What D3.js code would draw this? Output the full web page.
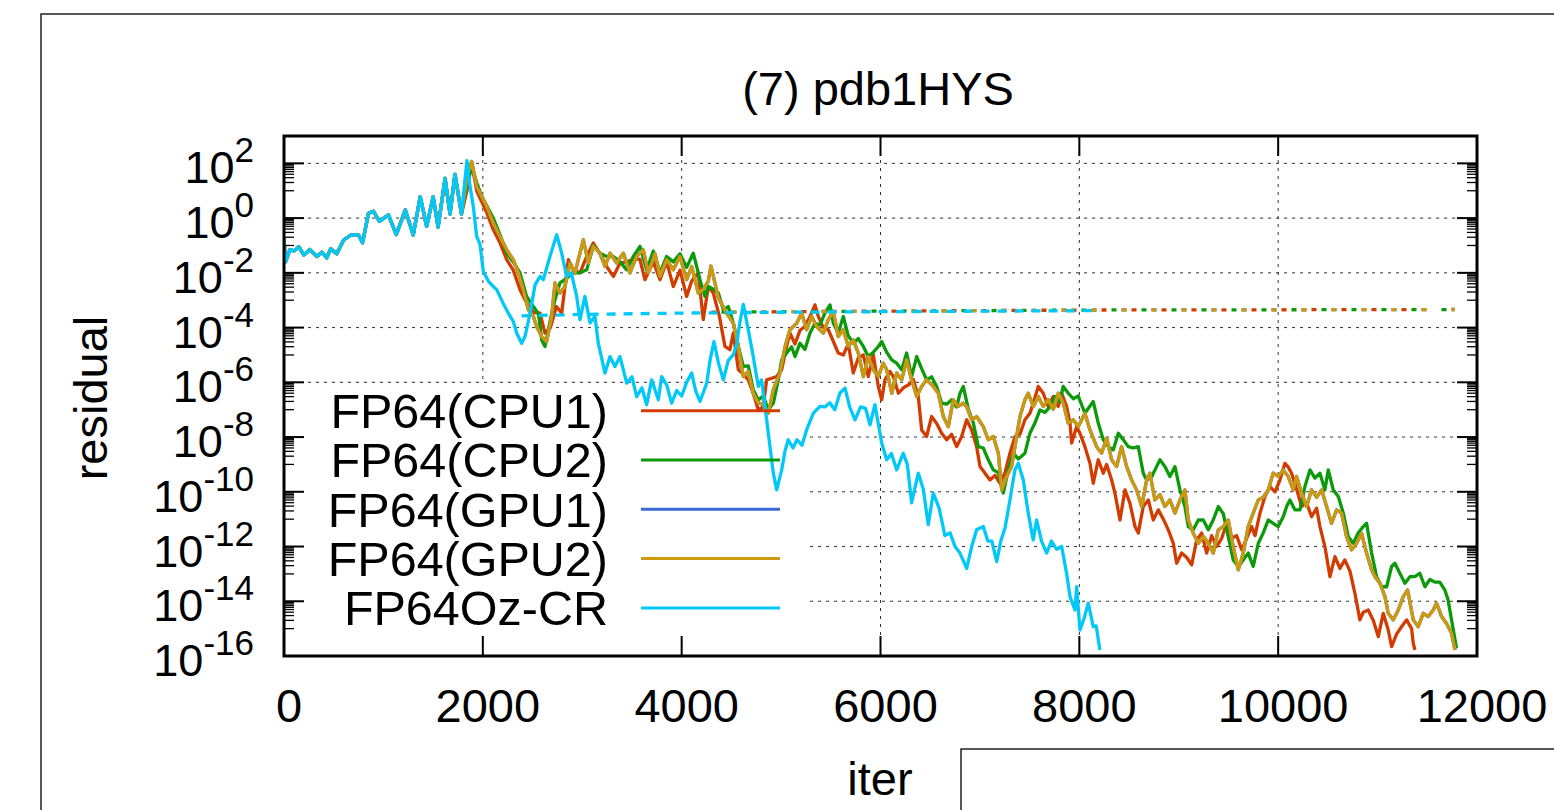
<!DOCTYPE html>
<html><head><meta charset="utf-8">
<script src="https://cdn.jsdelivr.net/npm/d3@7"></script>
<style>
html,body{margin:0;padding:0;background:#fff;}
svg{display:block;}
text{font-family:"Liberation Sans", Arial, Helvetica, sans-serif;fill:#000;}
</style></head><body>
<svg id="chart" width="1554" height="810"></svg>
<script>
// ---------------- DATA (iteration, log10(residual)) ----------------
const titleText = "(7) pdb1HYS";
const xTickValues = [0, 2000, 4000, 6000, 8000, 10000, 12000];
const yTickExponents = [-16, -14, -12, -10, -8, -6, -4, -2, 0, 2];
const seriesNames = ["FP64(CPU1)", "FP64(CPU2)", "FP64(GPU1)", "FP64(GPU2)", "FP64Oz-CR"];
const seriesColors = ["#d23c00", "#0a9a0a", "#3a69d6", "#cc9a0c", "#00c8f8"];

// common start shared by all solvers
const headPts = [[0,-0.75],[15,-1.6],[60,-1.15],[100,-1.2],[150,-1.05],[200,-1.35],[260,-1.15],[330,-1.4],[380,-1.25],[430,-1.45],[470,-1.12],[530,-1.3],[600,-0.8],[680,-0.6],[750,-0.62],[790,-0.9],[850,0.18],[900,0.25],[960,-0.12],[1050,0.12],[1130,-0.6],[1220,0.3],[1300,-0.62],[1370,0.78],[1435,-0.3],[1500,0.78],[1550,-0.33],[1620,1.45],[1670,0.15],[1720,1.6],[1785,0.15]];

const cpu1Pts = [[1840,1.0],[1888,2.0],[1938,1.0],[1988,0.6],[2039,0.2],[2105,-0.42],[2172,-0.9],[2240,-1.52],[2306,-1.9],[2374,-2.62],[2440,-3.1],[2508,-3.45],[2575,-3.47],[2625,-4.2],[2680,-4.0],[2740,-3.23],[2793,-3.47],[2860,-1.52],[2910,-1.9],[2977,-2.0],[3045,-1.4],[3111,-0.91],[3178,-1.3],[3245,-1.77],[3313,-2.13],[3380,-1.64],[3447,-1.6],[3514,-1.5],[3580,-1.5],[3630,-2.25],[3715,-1.6],[3782,-2.25],[3849,-1.6],[3916,-2.5],[3983,-1.9],[4050,-2.86],[4101,-2.3],[4167,-2.0],[4217,-3.71],[4268,-2.5],[4318,-2.74],[4380,-3.59],[4435,-4.69],[4485,-4.81],[4519,-4.2],[4570,-5.54],[4620,-5.7],[4670,-5.91],[4720,-6.4],[4771,-7.01],[4820,-6.9],[4855,-5.91],[4905,-5.85],[4956,-5.79],[5006,-5.54],[5056,-4.69],[5089,-4.2],[5140,-4.6],[5190,-4.1],[5240,-3.96],[5290,-3.6],[5341,-3.17],[5375,-3.6],[5425,-4.0],[5475,-4.08],[5525,-4.5],[5575,-4.93],[5626,-5.0],[5676,-4.6],[5726,-5.66],[5777,-5.1],[5827,-5.0],[5877,-5.79],[5928,-5.0],[5978,-6.15],[6012,-6.64],[6045,-5.9],[6095,-5.6],[6130,-5.8],[6180,-6.4],[6230,-6.2],[6280,-6.1],[6330,-5.9],[6380,-6.52],[6414,-7.74],[6464,-7.98],[6514,-7.25],[6564,-7.5],[6615,-7.86],[6665,-8.1],[6715,-7.9],[6766,-8.35],[6816,-7.98],[6867,-7.37],[6917,-7.74],[6967,-8.35],[7001,-9.08],[7051,-9.32],[7101,-9.57],[7152,-9.4],[7202,-9.69],[7252,-9.3],[7302,-8.59],[7353,-7.98],[7403,-7.9],[7453,-7.37],[7503,-7.13],[7537,-6.76],[7587,-6.15],[7637,-6.4],[7687,-6.88],[7738,-6.52],[7788,-6.88],[7822,-6.4],[7872,-6.88],[7906,-7.49],[7923,-8.22],[7973,-7.62],[8006,-7.86],[8056,-8.35],[8107,-8.96],[8140,-9.69],[8190,-8.83],[8241,-9.32],[8275,-9.0],[8325,-9.57],[8358,-10.05],[8409,-11.03],[8459,-9.93],[8509,-10.42],[8560,-11.27],[8593,-11.51],[8643,-10.54],[8694,-10.3],[8744,-11.03],[8794,-10.66],[8845,-11.0],[8895,-11.39],[8945,-11.88],[8979,-12.61],[9029,-12.24],[9080,-12.4],[9130,-12.67],[9180,-11.76],[9230,-11.51],[9281,-12.24],[9331,-11.6],[9381,-12.0],[9432,-11.7],[9482,-11.15],[9532,-11.7],[9582,-11.6],[9633,-12.12],[9683,-11.7],[9733,-11.27],[9767,-11.6],[9817,-10.78],[9867,-10.17],[9917,-9.81],[9968,-10.0],[10018,-9.57],[10068,-8.96],[10102,-9.1],[10135,-9.32],[10185,-9.9],[10236,-10.54],[10286,-10.4],[10336,-10.91],[10387,-10.6],[10420,-11.27],[10470,-12.0],[10521,-13.1],[10571,-12.37],[10621,-12.8],[10671,-12.49],[10722,-12.9],[10772,-13.71],[10822,-14.68],[10856,-14.4],[10906,-14.32],[10957,-14.7],[11007,-15.29],[11057,-14.44],[11107,-15.05],[11141,-15.66],[11191,-15.2],[11241,-14.93],[11292,-14.68],[11342,-15.0],[11359,-15.54],[11376,-15.78]];

const cpu2Pts = [[1840,1.22],[1888,1.9],[1938,1.3],[1988,0.8],[2039,0.45],[2105,0.0],[2172,-0.6],[2240,-1.28],[2306,-1.6],[2374,-2.0],[2440,-2.86],[2508,-3.23],[2560,-3.5],[2592,-4.45],[2625,-4.69],[2680,-3.7],[2726,-2.98],[2776,-2.37],[2843,-2.2],[2910,-2.0],[2977,-2.0],[3045,-1.89],[3111,-1.0],[3178,-1.28],[3245,-1.4],[3313,-1.4],[3380,-1.6],[3447,-1.89],[3514,-1.4],[3581,-1.03],[3648,-1.9],[3715,-1.2],[3782,-2.0],[3849,-1.4],[3916,-1.6],[3983,-1.3],[4050,-1.8],[4117,-1.28],[4184,-2.25],[4234,-2.86],[4268,-2.5],[4318,-2.6],[4369,-2.74],[4419,-3.35],[4469,-3.23],[4520,-3.84],[4570,-4.69],[4620,-5.42],[4670,-5.4],[4720,-6.27],[4771,-6.64],[4821,-6.5],[4872,-7.01],[4922,-6.76],[4972,-5.91],[5006,-5.18],[5056,-4.93],[5106,-4.7],[5140,-5.06],[5190,-4.57],[5240,-4.8],[5291,-4.2],[5341,-3.84],[5391,-3.9],[5441,-3.47],[5492,-3.17],[5525,-3.84],[5575,-4.2],[5626,-3.59],[5676,-4.3],[5726,-4.57],[5777,-4.4],[5827,-4.69],[5877,-5.06],[5928,-4.9],[5978,-4.69],[6012,-4.51],[6062,-4.9],[6113,-5.18],[6163,-5.3],[6213,-5.54],[6263,-4.93],[6313,-5.79],[6364,-5.06],[6414,-5.5],[6464,-5.91],[6514,-5.8],[6565,-6.15],[6615,-6.76],[6665,-6.8],[6716,-6.64],[6766,-6.9],[6800,-6.4],[6833,-6.15],[6883,-6.98],[6934,-7.49],[6984,-8.35],[7034,-8.4],[7084,-8.83],[7135,-9.2],[7185,-9.3],[7235,-10.05],[7286,-9.2],[7336,-8.59],[7386,-8.8],[7453,-8.59],[7503,-7.86],[7553,-7.49],[7604,-7.01],[7654,-7.1],[7704,-6.9],[7754,-6.52],[7805,-6.7],[7838,-6.15],[7889,-6.4],[7939,-6.6],[7989,-6.5],[8056,-7.13],[8140,-6.7],[8190,-7.49],[8241,-8.1],[8291,-8.35],[8341,-8.47],[8392,-7.86],[8442,-8.1],[8492,-8.35],[8542,-8.4],[8593,-8.35],[8643,-9.32],[8677,-9.57],[8727,-9.45],[8777,-9.08],[8811,-8.83],[8861,-9.08],[8911,-9.44],[8962,-9.08],[9012,-9.93],[9062,-10.54],[9096,-11.27],[9146,-11.39],[9197,-11.03],[9247,-11.03],[9297,-11.39],[9347,-11.03],[9398,-10.54],[9448,-10.8],[9498,-11.64],[9548,-12.49],[9599,-12.73],[9649,-12.49],[9699,-12.24],[9749,-12.73],[9800,-11.88],[9850,-11.5],[9900,-11.03],[9950,-11.15],[10001,-11.27],[10051,-10.91],[10085,-10.54],[10118,-10.3],[10168,-10.66],[10219,-10.66],[10269,-9.81],[10320,-9.2],[10370,-9.5],[10420,-9.32],[10470,-9.93],[10504,-9.2],[10554,-9.93],[10605,-10.17],[10655,-10.78],[10705,-11.64],[10755,-11.88],[10806,-11.5],[10856,-11.27],[10889,-11.15],[10940,-12.24],[10990,-13.1],[11040,-13.47],[11091,-13.47],[11141,-12.73],[11174,-12.61],[11224,-12.98],[11275,-13.34],[11325,-13.1],[11375,-13.1],[11425,-12.98],[11476,-13.47],[11526,-13.2],[11576,-13.3],[11626,-13.3],[11677,-13.59],[11710,-13.96],[11744,-14.68],[11794,-15.72]];

// GPU1 coincides with GPU2 (hidden under it in the picture)
const gpu2Pts = [[1840,1.5],[1888,2.07],[1938,1.16],[1988,0.79],[2039,0.43],[2105,-0.18],[2172,-0.67],[2240,-1.16],[2306,-1.52],[2357,-2.0],[2407,-2.62],[2457,-3.35],[2508,-3.59],[2541,-3.96],[2592,-4.33],[2642,-4.51],[2692,-3.59],[2726,-2.37],[2776,-2.74],[2826,-2.5],[2877,-1.64],[2927,-2.0],[2960,-1.52],[3011,-0.79],[3061,-1.64],[3111,-1.03],[3178,-1.28],[3229,-1.77],[3279,-1.28],[3346,-1.64],[3413,-1.28],[3480,-2.0],[3547,-1.4],[3614,-1.16],[3664,-2.0],[3732,-1.3],[3782,-2.13],[3849,-1.52],[3916,-1.89],[3983,-1.4],[4050,-2.25],[4101,-1.77],[4167,-2.74],[4217,-2.6],[4268,-2.3],[4295,-1.75],[4368,-2.9],[4452,-3.47],[4519,-3.84],[4570,-4.69],[4620,-5.79],[4670,-5.6],[4720,-6.4],[4771,-6.76],[4818,-6.8],[4872,-7.13],[4922,-6.27],[4989,-5.66],[5040,-4.69],[5089,-4.08],[5157,-3.84],[5207,-3.47],[5257,-4.08],[5307,-3.59],[5358,-3.96],[5425,-4.2],[5475,-3.71],[5525,-3.41],[5575,-4.33],[5626,-4.08],[5676,-4.69],[5726,-4.45],[5777,-4.93],[5827,-5.79],[5877,-5.06],[5928,-5.54],[5978,-5.79],[6028,-5.3],[6062,-5.54],[6113,-6.4],[6163,-5.66],[6213,-5.91],[6263,-5.18],[6313,-5.91],[6364,-6.52],[6414,-6.15],[6464,-5.91],[6531,-6.15],[6581,-6.4],[6632,-7.25],[6682,-7.62],[6732,-6.64],[6782,-6.88],[6833,-6.76],[6867,-6.9],[6917,-7.37],[6967,-7.25],[7034,-7.62],[7084,-8.1],[7135,-7.98],[7185,-8.59],[7219,-9.93],[7269,-9.44],[7319,-9.08],[7369,-7.98],[7403,-7.25],[7453,-6.64],[7486,-6.4],[7537,-6.88],[7587,-6.52],[7637,-6.88],[7687,-6.64],[7738,-6.98],[7788,-6.4],[7838,-6.76],[7888,-7.49],[7939,-7.37],[7989,-7.62],[8056,-7.13],[8107,-7.74],[8174,-8.35],[8224,-8.59],[8275,-8.04],[8325,-8.83],[8375,-9.08],[8425,-8.35],[8476,-9.08],[8526,-9.57],[8576,-9.93],[8627,-10.54],[8677,-9.57],[8710,-9.32],[8760,-10.3],[8811,-10.1],[8861,-10.54],[8911,-10.3],[8962,-10.78],[9012,-10.3],[9062,-9.93],[9096,-11.03],[9146,-11.51],[9197,-11.88],[9247,-11.63],[9297,-11.88],[9347,-12.24],[9398,-11.39],[9448,-11.27],[9498,-11.03],[9548,-12.0],[9599,-12.85],[9649,-12.24],[9699,-11.27],[9749,-10.78],[9800,-10.3],[9850,-10.2],[9900,-9.93],[9950,-9.32],[10001,-9.44],[10051,-9.2],[10101,-9.44],[10151,-9.93],[10185,-9.44],[10236,-10.05],[10286,-10.54],[10336,-9.93],[10387,-10.2],[10437,-9.93],[10487,-10.54],[10537,-11.15],[10588,-10.66],[10638,-10.78],[10688,-11.64],[10739,-12.12],[10789,-11.88],[10839,-11.51],[10889,-12.24],[10940,-12.85],[10973,-13.1],[11024,-13.34],[11074,-13.83],[11107,-14.44],[11158,-14.68],[11208,-14.32],[11258,-13.83],[11302,-13.59],[11359,-14.68],[11409,-14.93],[11459,-14.44],[11509,-14.56],[11560,-14.32],[11593,-14.07],[11644,-14.56],[11694,-14.81],[11744,-15.17],[11778,-15.78]];
const gpu1Pts = gpu2Pts;

const ozPts = [[1840,2.1],[1871,1.16],[1904,0.43],[1938,-0.67],[1971,-0.95],[2005,-1.95],[2055,-2.3],[2105,-2.5],[2140,-2.62],[2172,-2.86],[2210,-3.16],[2256,-3.47],[2307,-3.78],[2340,-4.2],[2390,-4.57],[2424,-4.33],[2474,-3.5],[2525,-2.44],[2575,-2.13],[2608,-2.25],[2675,-1.4],[2743,-0.61],[2793,-1.28],[2843,-2.13],[2890,-2.0],[2944,-2.86],[2977,-3.71],[3027,-2.86],[3078,-3.83],[3128,-3.59],[3161,-4.57],[3229,-5.66],[3279,-5.06],[3329,-5.42],[3380,-5.06],[3447,-6.03],[3500,-5.8],[3547,-6.52],[3600,-6.2],[3648,-6.82],[3698,-5.91],[3765,-6.64],[3799,-5.79],[3850,-6.1],[3899,-6.76],[3950,-6.3],[4000,-6.5],[4050,-6.0],[4101,-5.66],[4140,-6.3],[4184,-6.7],[4252,-6.03],[4285,-5.2],[4325,-4.51],[4370,-5.3],[4419,-5.91],[4469,-5.2],[4519,-5.0],[4553,-4.6],[4586,-3.8],[4620,-3.15],[4670,-4.08],[4720,-5.06],[4771,-6.15],[4804,-5.91],[4855,-7.37],[4888,-8.35],[4922,-9.32],[4956,-9.93],[5006,-9.2],[5040,-8.5],[5072,-8.1],[5120,-8.4],[5160,-8.1],[5210,-8.3],[5257,-7.74],[5324,-7.13],[5391,-6.88],[5440,-6.9],[5490,-6.75],[5540,-7.0],[5592,-6.39],[5643,-6.21],[5690,-6.9],[5743,-7.37],[5800,-6.9],[5850,-6.95],[5894,-7.55],[5944,-6.82],[6012,-8.22],[6062,-8.83],[6110,-8.6],[6163,-9.2],[6229,-8.59],[6270,-9.0],[6313,-10.4],[6380,-9.32],[6430,-9.9],[6480,-11.2],[6531,-10.05],[6590,-10.6],[6648,-11.6],[6700,-11.5],[6749,-12.0],[6799,-12.24],[6867,-12.8],[6917,-12.0],[6967,-11.39],[7034,-11.27],[7080,-11.8],[7120,-11.8],[7169,-12.55],[7210,-11.8],[7252,-11.33],[7302,-10.3],[7352,-9.2],[7386,-8.96],[7436,-9.57],[7486,-10.78],[7536,-11.76],[7570,-11.03],[7620,-11.8],[7671,-12.24],[7720,-11.8],[7770,-12.1],[7822,-12.0],[7872,-12.98],[7906,-13.83],[7956,-14.32],[7973,-13.47],[8006,-15.05],[8050,-14.6],[8090,-14.07],[8140,-14.93],[8170,-14.9],[8207,-15.78]];

// dashed (nearly flat) companion curves
const cpu1DashPts = [[4300,-3.44],[5000,-3.42],[6000,-3.4],[7000,-3.38],[8000,-3.36],[9000,-3.35],[10000,-3.35],[11376,-3.34]];
const cpu2DashPts = [[4300,-3.44],[5000,-3.42],[6000,-3.4],[7000,-3.38],[8000,-3.36],[9000,-3.35],[10000,-3.35],[11794,-3.34]];
const gpuDashPts  = [[4300,-3.44],[5000,-3.42],[6000,-3.4],[7000,-3.38],[8000,-3.36],[9000,-3.35],[10000,-3.35],[11778,-3.34]];
const ozDashPts   = [[2390,-3.57],[3000,-3.52],[4000,-3.47],[5000,-3.44],[6000,-3.42],[7000,-3.4],[8207,-3.38]];

// ---------------- DRAWING ----------------
const svg = d3.select("#chart");
const X0 = 284, X1 = 1477, Y0 = 136, Y1 = 656;
const x = d3.scaleLinear().domain([0, 12000]).range([X0, X1]);
const y = d3.scaleLog().domain([1e-16, 1e3]).range([Y1, Y0]);
const keyBox = {x1: 810, y0: 384};
const FONT = 47;

// outer frames
svg.append("rect").attr("x", 41).attr("y", 14).attr("width", 1600).attr("height", 900)
  .attr("fill", "none").attr("stroke", "#222").attr("stroke-width", 1.5);
svg.append("rect").attr("x", 961).attr("y", 749).attr("width", 700).attr("height", 200)
  .attr("fill", "none").attr("stroke", "#222").attr("stroke-width", 1.5);

// grid (not drawn through the key area)
const grid = svg.append("g").attr("stroke", "#333").attr("stroke-width", 1).attr("stroke-dasharray", "3,5");
yTickExponents.forEach(e => {
  if (e === -16) return;
  const yy = y(Math.pow(10, e));
  const xs = yy > keyBox.y0 ? keyBox.x1 : X0;
  grid.append("line").attr("x1", xs).attr("x2", X1).attr("y1", yy).attr("y2", yy);
});
xTickValues.forEach(v => {
  if (v === 0 || v === 12000) return;
  const xx = x(v);
  const ye = xx < keyBox.x1 ? keyBox.y0 : Y1;
  grid.append("line").attr("x1", xx).attr("x2", xx).attr("y1", Y0).attr("y2", ye);
});

// clip
svg.append("defs").append("clipPath").attr("id", "plotclip")
  .append("rect").attr("x", X0).attr("y", Y0).attr("width", X1 - X0).attr("height", Y1 - Y0);
const plot = svg.append("g").attr("clip-path", "url(#plotclip)");

const line = d3.line().x(d => x(d[0])).y(d => y(Math.pow(10, d[1])));

const solidSeries = [
  headPts.concat(cpu1Pts),
  headPts.concat(cpu2Pts),
  headPts.concat(gpu1Pts),
  headPts.concat(gpu2Pts),
  headPts.concat(ozPts)
];
const dashSeries = [cpu1DashPts, cpu2DashPts, gpuDashPts, gpuDashPts, ozDashPts];
const dashStyle = [["5,25", 0], ["5,25", -10], ["5,25", -20], ["5,25", -20], ["9,8", 0]];

solidSeries.forEach((pts, i) => {
  plot.append("path").datum(pts).attr("d", line)
    .attr("fill", "none").attr("stroke", seriesColors[i]).attr("stroke-width", 3.3)
    .attr("stroke-linejoin", "round");
  plot.append("path").datum(dashSeries[i]).attr("d", line)
    .attr("fill", "none").attr("stroke", seriesColors[i]).attr("stroke-width", 3.3)
    .attr("stroke-dasharray", dashStyle[i][0]).attr("stroke-dashoffset", dashStyle[i][1]);
});

// border
svg.append("rect").attr("x", X0).attr("y", Y0).attr("width", X1 - X0).attr("height", Y1 - Y0)
  .attr("fill", "none").attr("stroke", "#000").attr("stroke-width", 3);

// ticks
const ticks = svg.append("g").attr("stroke", "#000");
yTickExponents.forEach(e => {
  const yy = y(Math.pow(10, e));
  ticks.append("line").attr("x1", X0).attr("x2", X0 + 20).attr("y1", yy).attr("y2", yy).attr("stroke-width", 2);
  ticks.append("line").attr("x1", X1).attr("x2", X1 - 20).attr("y1", yy).attr("y2", yy).attr("stroke-width", 2);
  for (let j = 1; j <= 9; j++) {
    const v = j * Math.pow(10, e - 1);
    if (v < 1e-16 || v > 1e3) continue;
    const ym = y(v);
    ticks.append("line").attr("x1", X0).attr("x2", X0 + 10).attr("y1", ym).attr("y2", ym).attr("stroke-width", 1.3);
    ticks.append("line").attr("x1", X1).attr("x2", X1 - 10).attr("y1", ym).attr("y2", ym).attr("stroke-width", 1.3);
  }
});
xTickValues.forEach(v => {
  const xx = x(v);
  ticks.append("line").attr("x1", xx).attr("x2", xx).attr("y1", Y1).attr("y2", Y1 - 20).attr("stroke-width", 2);
  ticks.append("line").attr("x1", xx).attr("x2", xx).attr("y1", Y0).attr("y2", Y0 + 20).attr("stroke-width", 2);
});

// tick labels
xTickValues.forEach(v => {
  svg.append("text").attr("x", x(v) + 5).attr("y", 722).attr("text-anchor", "middle")
    .attr("font-size", FONT).text(v);
});
yTickExponents.forEach(e => {
  const yy = y(Math.pow(10, e));
  const t = svg.append("text").attr("x", 254).attr("y", yy + 20).attr("text-anchor", "end")
    .attr("font-size", 45);
  t.append("tspan").text("10");
  t.append("tspan").attr("dy", -21).attr("font-size", 35).text(String(e));
});

// titles
svg.append("text").attr("x", 878).attr("y", 105).attr("text-anchor", "middle")
  .attr("font-size", FONT).text(titleText);
svg.append("text").attr("x", 880).attr("y", 795).attr("text-anchor", "middle")
  .attr("font-size", FONT).text("iter");
svg.append("text").attr("transform", "translate(107,398) rotate(-90)").attr("text-anchor", "middle")
  .attr("font-size", FONT).text("residual");

// legend
seriesNames.forEach((name, i) => {
  const ly = 410.7 + i * 49.3;
  svg.append("text").attr("x", 608).attr("y", ly).attr("dy", "0.36em").attr("text-anchor", "end")
    .attr("font-size", 48.5).text(name);
  svg.append("line").attr("x1", 641).attr("x2", 780).attr("y1", ly).attr("y2", ly)
    .attr("stroke", seriesColors[i]).attr("stroke-width", 3);
});
</script>
</body></html>
